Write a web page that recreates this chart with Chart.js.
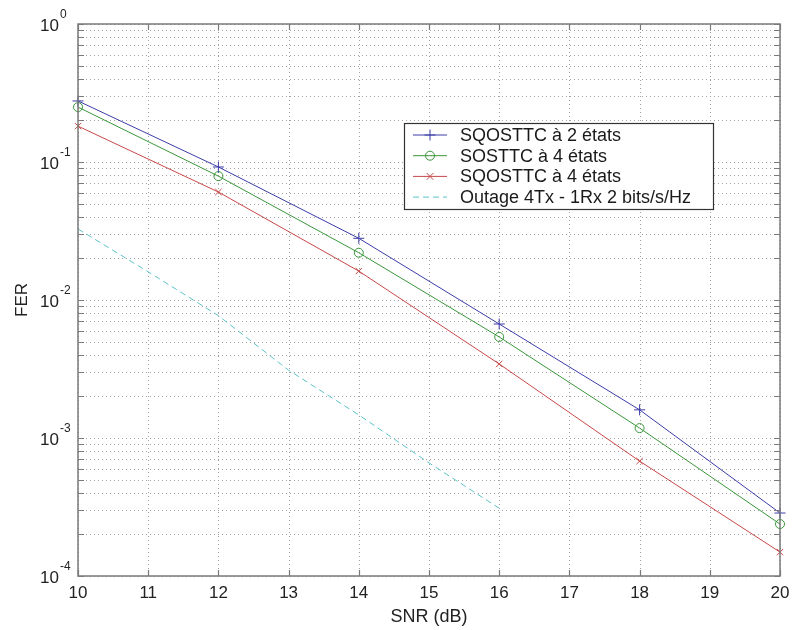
<!DOCTYPE html>
<html>
<head>
<meta charset="utf-8">
<script src="https://cdn.jsdelivr.net/npm/chart.js@4.4.1/dist/chart.umd.min.js"></script>
<style>
html, body { margin: 0; padding: 0; background: #fff; }
#wrap { width: 793px; height: 630px; }
</style>
</head>
<body>
<div id="wrap"><canvas id="c" width="793" height="630"></canvas></div>
<script>
// SNR points (dB) where the coded schemes were simulated
const snr = [10, 12, 14, 16, 18, 20];
// Frame error rates per scheme
const fer_sqosttc2 = [0.277, 0.092, 0.028, 0.0067, 0.0016, 0.000286];
const fer_sosttc4 = [0.25, 0.079, 0.022, 0.0054, 0.00118, 0.000238];
const fer_sqosttc4 = [0.182, 0.0606, 0.0162, 0.00344, 0.00068, 0.000149];
// Outage probability, 4 Tx / 1 Rx at 2 bits/s/Hz
const snr_outage = [10, 11, 12, 13, 14, 15, 16];
const p_outage = [0.0327, 0.016, 0.0077, 0.0031, 0.00147, 0.00066, 0.00031];
// Axis ticks
const xTicks = [10, 11, 12, 13, 14, 15, 16, 17, 18, 19, 20];
const yDecades = [0, -1, -2, -3, -4];
const seriesNames = ['SQOSTTC à 2 états', 'SOSTTC à 4 états', 'SQOSTTC à 4 états', 'Outage 4Tx - 1Rx 2 bits/s/Hz'];

const FONT = "'Liberation Sans', Arial, Helvetica, sans-serif";
const toXY = (xs, ys) => xs.map((x, i) => ({ x: x, y: ys[i] }));

const colors = ['#3c3ca8', '#3a963a', '#c84848', '#5cc4c8'];
const styles = ['cross', 'circle', 'crossRot', false];

// minor log grid values between 1e-4 and 1
const yGridVals = [];
for (let e = -4; e < 0; e++) {
  for (let m = 1; m <= 9; m++) yGridVals.push(m * Math.pow(10, e));
}
yGridVals.push(1);

// marker outline used in the legend
function drawMarker(ctx, style, r, x, y) {
  ctx.beginPath();
  if (style === 'cross') {
    ctx.moveTo(x - r, y); ctx.lineTo(x + r, y);
    ctx.moveTo(x, y - r); ctx.lineTo(x, y + r);
  } else if (style === 'crossRot') {
    const d = r * 0.75;
    ctx.moveTo(x - d, y - d); ctx.lineTo(x + d, y + d);
    ctx.moveTo(x - d, y + d); ctx.lineTo(x + d, y - d);
  } else if (style === 'circle') {
    ctx.arc(x, y, r, 0, Math.PI * 2);
  }
  ctx.stroke();
}

// dotted grid, drawn under the curves
const gridPlugin = {
  id: 'dottedGrid',
  beforeDatasetsDraw(chart) {
    const { ctx, chartArea: a, scales } = chart;
    ctx.save();
    ctx.strokeStyle = '#a2a2a2';
    ctx.lineWidth = 1;
    ctx.setLineDash([1, 3]);
    xTicks.forEach(v => {
      const px = Math.round(scales.x.getPixelForValue(v)) + 0.5;
      ctx.beginPath(); ctx.moveTo(px, a.top); ctx.lineTo(px, a.bottom); ctx.stroke();
    });
    yGridVals.forEach(v => {
      const py = Math.round(scales.y.getPixelForValue(v)) + 0.5;
      ctx.beginPath(); ctx.moveTo(a.left, py); ctx.lineTo(a.right, py); ctx.stroke();
    });
    ctx.restore();
  }
};

// axes box with inward tick marks, tick labels and the legend
const framePlugin = {
  id: 'frameAndLegend',
  afterDraw(chart) {
    const { ctx, chartArea: a, scales, data } = chart;
    ctx.save();
    ctx.setLineDash([]);
    ctx.strokeStyle = '#7a7a7a';
    ctx.lineWidth = 1.5;
    ctx.strokeRect(a.left, a.top, a.right - a.left, a.bottom - a.top);
    ctx.lineWidth = 1.2;
    const tl = 6;
    xTicks.forEach(v => {
      const px = Math.round(scales.x.getPixelForValue(v)) + 0.5;
      ctx.beginPath();
      ctx.moveTo(px, a.bottom); ctx.lineTo(px, a.bottom - tl);
      ctx.moveTo(px, a.top); ctx.lineTo(px, a.top + tl);
      ctx.stroke();
    });
    yGridVals.forEach(v => {
      const py = Math.round(scales.y.getPixelForValue(v)) + 0.5;
      ctx.beginPath();
      ctx.moveTo(a.left, py); ctx.lineTo(a.left + tl, py);
      ctx.moveTo(a.right, py); ctx.lineTo(a.right - tl, py);
      ctx.stroke();
    });

    // x tick labels
    ctx.fillStyle = '#222';
    ctx.textBaseline = 'middle';
    ctx.textAlign = 'center';
    ctx.font = '17px ' + FONT;
    xTicks.forEach(v => {
      ctx.fillText(String(v), scales.x.getPixelForValue(v), a.bottom + 17);
    });

    // y tick labels: 10 with superscript exponent
    yDecades.forEach(e => {
      const py = scales.y.getPixelForValue(Math.pow(10, e));
      ctx.font = '17px ' + FONT;
      ctx.textAlign = 'right';
      ctx.fillText('10', a.left - 19, py + 2);
      ctx.font = '12px ' + FONT;
      ctx.textAlign = 'left';
      ctx.fillText(e === 0 ? '0' : '-' + Math.abs(e), a.left - 18, py - 9);
    });

    // legend box
    const lx = a.left + 326, ly = a.top + 99, lw = 309, lh = 86;
    ctx.fillStyle = '#fff';
    ctx.fillRect(lx, ly, lw, lh);
    ctx.strokeStyle = '#333';
    ctx.lineWidth = 1.2;
    ctx.strokeRect(lx + 0.5, ly + 0.5, lw, lh);
    data.datasets.forEach((ds, i) => {
      const y = ly + 12 + i * 20.7;
      ctx.strokeStyle = ds.borderColor;
      ctx.lineWidth = 1;
      ctx.setLineDash(ds.borderDash || []);
      ctx.beginPath(); ctx.moveTo(lx + 9, y); ctx.lineTo(lx + 43, y); ctx.stroke();
      ctx.setLineDash([]);
      if (ds.pointStyle) drawMarker(ctx, ds.pointStyle, ds.pointRadius, lx + 26, y);
      ctx.fillStyle = '#1a1a1a';
      ctx.font = '18px ' + FONT;
      ctx.textAlign = 'left';
      ctx.textBaseline = 'middle';
      ctx.fillText(ds.label, lx + 56, y + 1);
    });
    ctx.restore();
  }
};

const datasets = [
  { label: seriesNames[0], data: toXY(snr, fer_sqosttc2), pointRadius: 5.5 },
  { label: seriesNames[1], data: toXY(snr, fer_sosttc4), pointRadius: 4.5 },
  { label: seriesNames[2], data: toXY(snr, fer_sqosttc4), pointRadius: 4.5 },
  { label: seriesNames[3], data: toXY(snr_outage, p_outage), pointRadius: 0, borderDash: [6, 4] }
].map((d, i) => Object.assign({
  borderColor: colors[i],
  backgroundColor: 'rgba(0,0,0,0)',
  pointBorderColor: colors[i],
  pointBackgroundColor: 'rgba(0,0,0,0)',
  pointStyle: styles[i],
  pointBorderWidth: 1,
  borderWidth: 1,
  tension: 0,
  clip: false
}, d));

new Chart(document.getElementById('c'), {
  type: 'line',
  data: { datasets: datasets },
  options: {
    responsive: false,
    animation: false,
    devicePixelRatio: 1,
    layout: { padding: { left: 0, top: 24, right: 13, bottom: 0 } },
    plugins: { legend: { display: false }, tooltip: { enabled: false } },
    scales: {
      x: {
        type: 'linear',
        min: 10, max: 20,
        afterFit: s => { s.height = 54; },
        grid: { display: false, drawTicks: false },
        border: { display: false },
        ticks: { display: false },
        title: { display: true, text: 'SNR (dB)', color: '#222', font: { family: FONT, size: 18 }, padding: { top: 0, bottom: 2 } }
      },
      y: {
        type: 'logarithmic',
        min: 1e-4, max: 1,
        afterFit: s => { s.width = 78; },
        grid: { display: false, drawTicks: false },
        border: { display: false },
        ticks: { display: false },
        title: { display: true, text: 'FER', color: '#222', font: { family: FONT, size: 17 }, padding: { top: 12, bottom: 0 } }
      }
    }
  },
  plugins: [gridPlugin, framePlugin]
});
</script>
</body>
</html>
